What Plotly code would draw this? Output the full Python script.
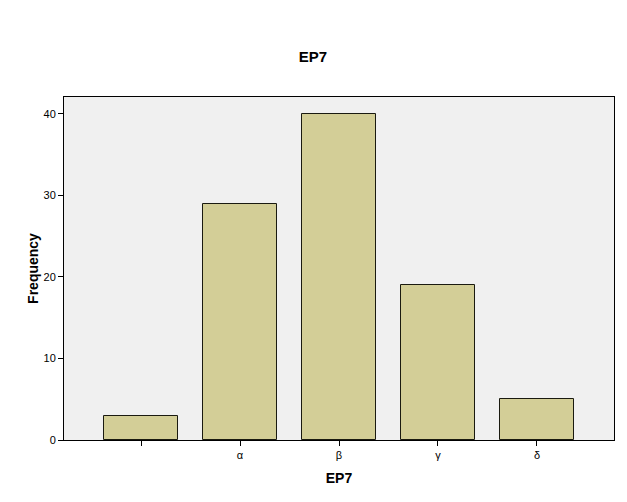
import plotly.graph_objects as go

categories = [" ", "α", "β", "γ", "δ"]
frequency = [3, 29, 40, 19, 5]
y_ticks = [0, 10, 20, 30, 40]

fig = go.Figure(go.Bar(
    x=categories, y=frequency,
    width=0.757,
    marker=dict(color="#D3CE97", line=dict(color="#1a1a10", width=1)),
))

font = "Liberation Sans, Arial, sans-serif"
fig.update_layout(
    width=627, height=502,
    margin=dict(l=56, r=21, t=89, b=70),
    paper_bgcolor="white", plot_bgcolor="#F0F0F0",
    title=dict(text="<b>EP7</b>", x=305 / 627, xanchor="center",
               y=1 - 49/502, yanchor="middle",
               font=dict(family=font, size=15, color="black")),
    showlegend=False,
    bargap=0,
)
fig.update_xaxes(
    type="category", range=[-0.778, 4.778],
    showline=True, linecolor="black", linewidth=1, mirror=True,
    ticks="outside", ticklen=5, tickcolor="black",
    tickfont=dict(family=font, size=11, color="black"),
    title=dict(text="<b>EP7</b>", font=dict(family=font, size=14, color="black"), standoff=12),
    showgrid=False,
)
fig.update_yaxes(
    range=[0, 42.08], tickvals=y_ticks,
    showline=True, linecolor="black", linewidth=1, mirror=True,
    ticks="outside", ticklen=5, tickcolor="black",
    tickfont=dict(family=font, size=11, color="black"),
    title=dict(text="<b>Frequency</b>", font=dict(family=font, size=14, color="black"), standoff=1),
    showgrid=False, zeroline=False,
)

fig.write_html("out.html")
